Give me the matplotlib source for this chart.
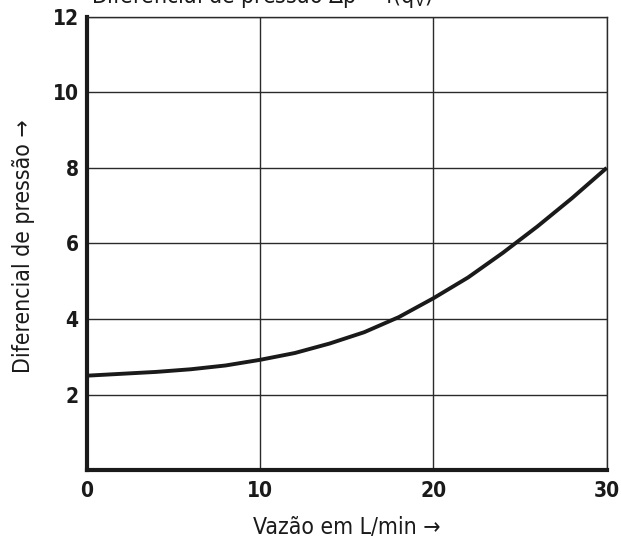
import numpy as np
import matplotlib.pyplot as plt

# data
flow = [0, 2, 4, 6, 8, 10, 12, 14, 16, 18, 20, 22, 24, 26, 28, 30]
dp = [2.5, 2.55, 2.6, 2.67, 2.77, 2.92, 3.1, 3.35, 3.65, 4.05, 4.55, 5.1, 5.75, 6.45, 7.2, 8.0]
xticks = [0, 10, 20, 30]
yticks = [2, 4, 6, 8, 10, 12]

plt.rcParams["font.family"] = ["DejaVu Sans"]
plt.rcParams["font.stretch"] = "condensed"

fig = plt.figure(figsize=(6.21, 5.41), dpi=100)
ax = fig.add_axes([0.140, 0.131, 0.837, 0.838])

ax.plot(flow, dp, color="#1a1a1a", lw=2.8, solid_capstyle="butt", zorder=3, clip_on=False)

ax.set_xlim(0, 30)
ax.set_ylim(0, 12)
ax.set_xticks(xticks)
ax.set_yticks(yticks)
ax.grid(True, color="#2a2a2a", lw=1.0)

for side in ["top", "right"]:
    ax.spines[side].set_linewidth(1.0)
    ax.spines[side].set_color("#2a2a2a")
for side in ["left", "bottom"]:
    ax.spines[side].set_linewidth(3.0)
    ax.spines[side].set_color("#1a1a1a")

ax.tick_params(axis="both", length=0, labelsize=15, colors="#1a1a1a")
ax.tick_params(axis="x", pad=8)
ax.tick_params(axis="y", pad=6)
for lab in ax.get_xticklabels() + ax.get_yticklabels():
    lab.set_fontweight("bold")
    lab.set_fontstretch("condensed")

ax.set_xlabel("Vazão em L/min \u2192", fontsize=16.5, color="#1a1a1a", fontstretch="condensed")
ax.set_ylabel("Diferencial de pressão \u2192", fontsize=16.5, color="#1a1a1a", fontstretch="condensed")
ax.xaxis.label.set_va("center")
ax.yaxis.label.set_va("center")
ax.xaxis.set_label_coords(0.5, -0.126)
ax.yaxis.set_label_coords(-0.123, 0.493)

# title sits partly above the figure edge, as in the source
fig.text(0.147, 0.994, "Diferencial de pressão \u0394p = f(q$_{\\mathregular{V}}$)",
         fontsize=16.5, ha="left", va="baseline", color="#1a1a1a", fontstretch="condensed")

fig.savefig("out.png", dpi=100)
